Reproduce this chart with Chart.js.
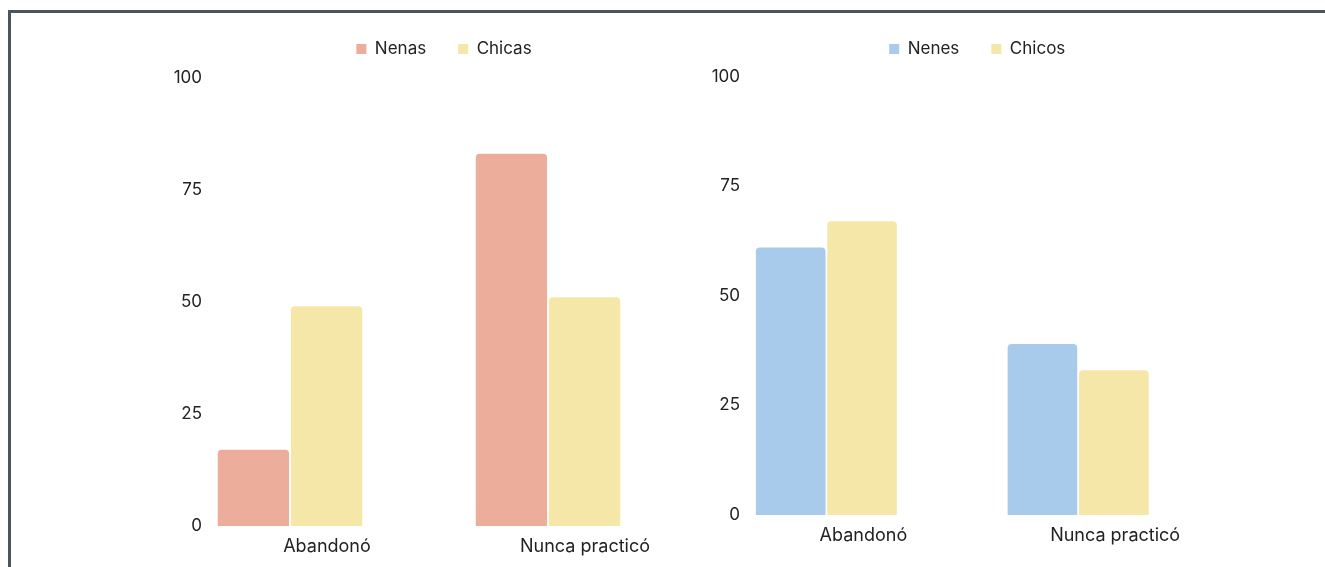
<!DOCTYPE html>
<html><head><meta charset="utf-8">
<script src="https://cdn.jsdelivr.net/npm/chart.js@4.4.1/dist/chart.umd.min.js"></script>
<style>
html,body{margin:0;padding:0;background:#fff;width:1325px;height:567px;overflow:hidden;position:relative}
#frame{position:absolute;left:8px;top:10px;width:1400px;height:600px;border-top:3px solid #4b555e;border-left:3px solid #4b555e;}
.c{position:absolute;top:0;height:567px}
#w1{left:100px;width:627px}
#w2{left:680px;width:574px}
</style></head><body>
<div id="frame"></div>
<div class="c" id="w1"><canvas id="c1"></canvas></div>
<div class="c" id="w2"><canvas id="c2"></canvas></div>
<script>
const categories = ['Abandonó', 'Nunca practicó'];
const girlsSeries = ['Nenas', 'Chicas'];
const nenasValues = [17, 83];
const chicasValues = [49, 51];
const boysSeries = ['Nenes', 'Chicos'];
const nenesValues = [61, 39];
const chicosValues = [67, 33];
const yTickValues = [0, 25, 50, 75, 100];

const FONT = 'Inter, "Noto Sans", sans-serif';
const TEXT = '#222222';

// lets the y tick labels sit just inside the plot area, as in the reference
const yLabelShift = {
  id: 'yLabelShift',
  afterLayout(chart) {
    const s = chart.scales.y;
    s.left = chart.chartArea.left - 5;
    s.right = chart.chartArea.left + 45;
  }
};

function makeChart(id, seriesNames, valsA, valsB, colA, colB, cfg) {
  const dummy = (axis, pos, size) => ({
    type: 'linear', axis: axis, position: pos, display: true,
    grid: { display: false, drawTicks: false }, border: { display: false },
    ticks: { display: false },
    afterFit: s => { if (axis === 'y') s.width = size; else s.height = size; }
  });
  return new Chart(document.getElementById(id), {
    type: 'bar',
    data: {
      labels: categories,
      datasets: [
        { label: seriesNames[0], data: valsA, backgroundColor: colA, xAxisID: 'x', yAxisID: 'y',
          borderRadius: { topLeft: 4, topRight: 4 }, borderSkipped: 'bottom' },
        { label: seriesNames[1], data: valsB, backgroundColor: colB, xAxisID: 'x', yAxisID: 'y',
          borderRadius: { topLeft: 4, topRight: 4 }, borderSkipped: 'bottom' }
      ]
    },
    options: {
      responsive: true, maintainAspectRatio: false, animation: false,
      layout: { padding: { top: 8.5, left: cfg.padLeft, right: 0, bottom: cfg.padBottom } },
      datasets: { bar: { categoryPercentage: 0.567, barPercentage: 0.975 } },
      plugins: {
        legend: {
          position: 'top',
          labels: { boxWidth: 10, boxHeight: 10, padding: 32, color: TEXT, font: { family: FONT, size: 17 } }
        },
        tooltip: { enabled: false }
      },
      scales: {
        x: {
          grid: { display: false, drawTicks: false }, border: { display: false },
          ticks: { color: TEXT, font: { family: FONT, size: 18 }, padding: cfg.xPad, labelOffset: 37,
                   maxRotation: 0, autoSkip: false }
        },
        y: {
          min: 0, max: 100,
          grid: { display: false, drawTicks: false }, border: { display: false },
          afterBuildTicks: s => { s.ticks = yTickValues.map(v => ({ value: v })); },
          ticks: { color: TEXT, font: { family: FONT, size: 17 }, padding: cfg.yPad },
          afterFit: s => { s.width = 0; }
        },
        xTop: dummy('x', 'top', cfg.gap),
        yRight: dummy('y', 'right', 50)
      }
    },
    plugins: [yLabelShift]
  });
}

makeChart('c1', girlsSeries, nenasValues, chicasValues, '#ecae9b', '#f5e7a8',
  { padLeft: 61, padBottom: 0.5, yPad: 4, xPad: 9.5, gap: 10 });
makeChart('c2', boysSeries, nenesValues, chicosValues, '#a8cbec', '#f5e7a8',
  { padLeft: 20.5, padBottom: 10.5, yPad: 5.5, xPad: 10, gap: 9 });
</script>
</body></html>
